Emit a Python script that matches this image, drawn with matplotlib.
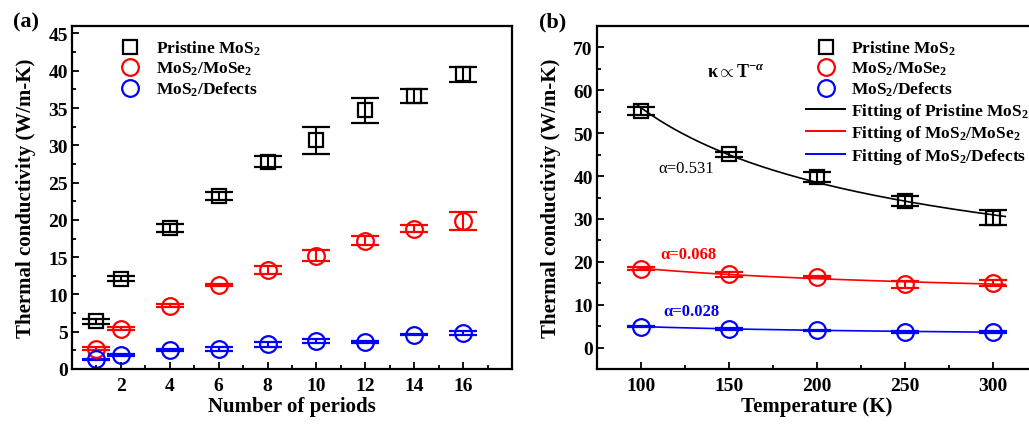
import numpy as np
import matplotlib
matplotlib.use("Agg")
import matplotlib.pyplot as plt
from matplotlib.lines import Line2D

plt.rcParams['font.family'] = ['Liberation Serif', 'DejaVu Serif']
plt.rcParams['font.weight'] = 'bold'
plt.rcParams['axes.labelweight'] = 'bold'
plt.rcParams['mathtext.fontset'] = 'custom'
plt.rcParams['mathtext.rm'] = 'Liberation Serif:bold'
plt.rcParams['mathtext.it'] = 'Liberation Serif:italic:bold'
plt.rcParams['mathtext.bf'] = 'Liberation Serif:bold'

# ---------------- data panel (a) ----------------
periods = [1, 2, 4, 6, 8, 10, 12, 14, 16]
pristine_a = [6.4, 12.1, 18.9, 23.2, 27.8, 30.7, 34.7, 36.6, 39.5]
pristine_a_err = [0.3, 0.35, 0.5, 0.55, 0.75, 1.8, 1.7, 0.95, 0.95]
mose2_a = [2.7, 5.4, 8.5, 11.3, 13.3, 15.2, 17.2, 18.8, 19.9]
mose2_a_err = [0.2, 0.2, 0.2, 0.15, 0.5, 0.75, 0.6, 0.45, 1.2]
defects_a = [1.3, 1.9, 2.55, 2.7, 3.3, 3.8, 3.6, 4.6, 4.8]
defects_a_err = [0.1, 0.1, 0.1, 0.25, 0.3, 0.25, 0.1, 0.1, 0.3]

# ---------------- data panel (b) ----------------
temps = [100, 150, 200, 250, 300]
pristine_b = [55.2, 45.1, 39.7, 34.2, 30.3]
pristine_b_err = [0.9, 0.6, 1.2, 1.2, 1.7]
mose2_b = [18.4, 17.1, 16.5, 14.8, 15.0]
mose2_b_err = [0.3, 0.6, 0.3, 0.8, 0.7]
defects_b = [4.9, 4.4, 4.0, 3.7, 3.65]
defects_b_err = [0.2, 0.2, 0.2, 0.2, 0.2]
alpha_labels = ["α=0.531", "α=0.068", "α=0.028"]

labels_pts = ["Pristine MoS$_2$", "MoS$_2$/MoSe$_2$", "MoS$_2$/Defects"]
labels_fit = ["Fitting of Pristine MoS$_2$", "Fitting of MoS$_2$/MoSe$_2$",
              "Fitting of MoS$_2$/Defects"]
colors = ['black', 'red', 'blue']
markers = ['s', 'o', 'o']
msizes = [10, 12, 12]

fig = plt.figure(figsize=(10.29, 4.27), dpi=100)
fig.patch.set_facecolor('white')
ax1 = fig.add_axes([72/1029, 57/427, 440/1029, 343/427])
ax2 = fig.add_axes([597/1029, 57/427, 440/1029, 343/427])

def style(ax):
    for s in ax.spines.values():
        s.set_linewidth(1.6)
    ax.tick_params(which='both', direction='in', top=False, right=False,
                   labelsize=14, width=1.3)
    ax.tick_params(which='major', length=5)
    ax.tick_params(which='minor', length=3)
    ax.tick_params(axis='x', pad=6)
    ax.tick_params(axis='y', pad=3)

eb_kw = dict(mfc='none', capsize=10, elinewidth=1.5, capthick=1.5, mew=1.6,
             linestyle='none')
leg_kw = dict(frameon=False, fontsize=12.5, handlelength=2.25, handletextpad=0.35,
              labelspacing=0.15, borderpad=0, borderaxespad=0)

# panel (a)
series_a = [(pristine_a, pristine_a_err), (mose2_a, mose2_a_err), (defects_a, defects_a_err)]
for (vals, errs), c, m, ms in zip(series_a, colors, markers, msizes):
    ax1.errorbar(periods, vals, yerr=errs, fmt=m, color=c, ms=ms, **eb_kw)
ax1.set_xlim(0, 18)
ax1.set_ylim(0, 46)
ax1.set_xticks([2, 4, 6, 8, 10, 12, 14, 16])
ax1.set_xticks(np.arange(1, 18, 2), minor=True)
ax1.set_yticks(np.arange(0, 46, 5))
ax1.set_yticks(np.arange(2.5, 46, 5), minor=True)
style(ax1)
ax1.set_xlabel("Number of periods", fontsize=15, labelpad=1)
ax1.set_ylabel("Thermal conductivity (W/m-K)", fontsize=15, labelpad=9)
h_a = [Line2D([], [], ls='none', marker=m, ms=ms, mfc='none', mec=c, mew=1.6)
       for c, m, ms in zip(colors, markers, msizes)]
ax1.legend(h_a, labels_pts, loc='upper left', bbox_to_anchor=(0.0875, 0.963), **leg_kw)

# panel (b)
series_b = [(pristine_b, pristine_b_err), (mose2_b, mose2_b_err), (defects_b, defects_b_err)]
tgrid = np.linspace(98, 307, 200)
for (vals, errs), c, m, ms in zip(series_b, colors, markers, msizes):
    coef = np.polyfit(np.log(temps), np.log(vals), 1)
    ax2.plot(tgrid, np.exp(np.polyval(coef, np.log(tgrid))), color=c, lw=1.2)
    ax2.errorbar(temps, vals, yerr=errs, fmt=m, color=c, ms=ms, **eb_kw)
ax2.set_xlim(75, 325)
ax2.set_ylim(-5, 75)
ax2.set_xticks([100, 150, 200, 250, 300])
ax2.set_xticks([125, 175, 225, 275], minor=True)
ax2.set_yticks(np.arange(0, 71, 10))
ax2.set_yticks(np.arange(-5, 75, 10), minor=True)
style(ax2)
ax2.set_xlabel("Temperature (K)", fontsize=15, labelpad=1)
ax2.set_ylabel("Thermal conductivity (W/m-K)", fontsize=15, labelpad=9)
h_b = h_a + [Line2D([], [], color=c, lw=1.4) for c in colors]
ax2.legend(h_b, labels_pts + labels_fit, loc='upper left',
           bbox_to_anchor=(0.475, 0.963), **leg_kw)
ax2.text(154, 64.5, r"κ$\propto$T$^{-\alpha}$", fontsize=13,
         ha='center', va='center')
ax2.text(125.7, 41.8, alpha_labels[0], color='black', fontsize=12,
         fontweight='normal', ha='center', va='center')
ax2.text(127.2, 21.9, alpha_labels[1], color='red', fontsize=12,
         ha='center', va='center')
ax2.text(128.6, 8.6, alpha_labels[2], color='blue', fontsize=12,
         ha='center', va='center')

fig.text(26/1029, 1 - 22/427, "(a)", fontsize=16, ha='center', va='center')
fig.text(553/1029, 1 - 22/427, "(b)", fontsize=16, ha='center', va='center')

fig.savefig("out.png", dpi=100, facecolor='white')
